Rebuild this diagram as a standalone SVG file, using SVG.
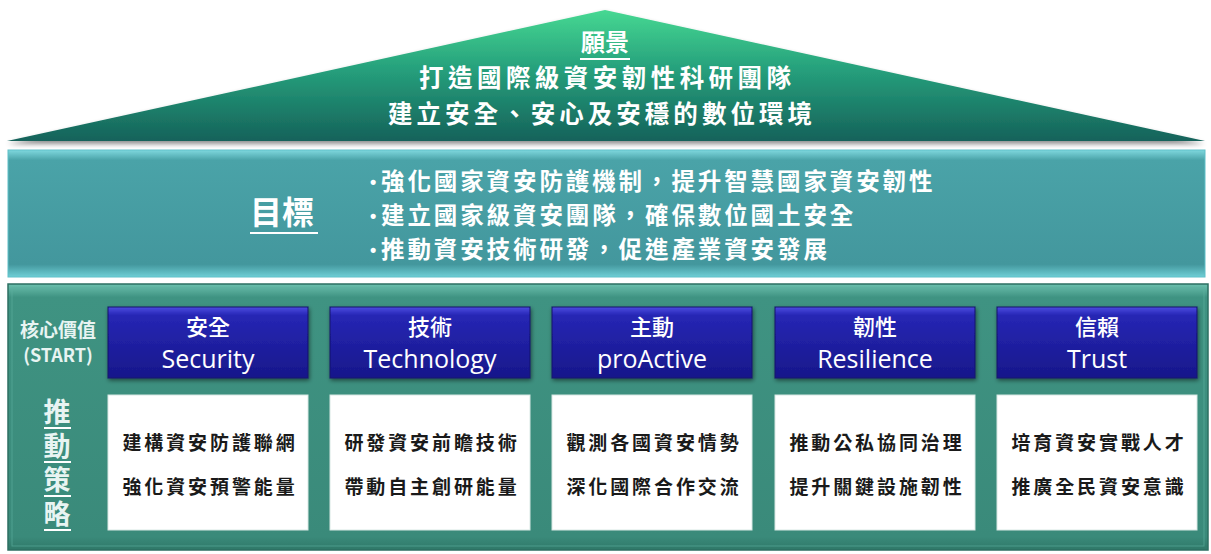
<svg xmlns="http://www.w3.org/2000/svg" width="1211" height="554" viewBox="0 0 1211 554">
<defs>
<linearGradient id="gTri" x1="0" y1="0" x2="0" y2="1">
<stop offset="0" stop-color="#46d892"/>
<stop offset="0.45" stop-color="#26a07c"/>
<stop offset="1" stop-color="#15625a"/>
</linearGradient>
<linearGradient id="gBand" x1="0" y1="0" x2="0" y2="1">
<stop offset="0" stop-color="#7fd8de"/>
<stop offset="0.08" stop-color="#4aa3a8"/>
<stop offset="0.9" stop-color="#43979d"/>
<stop offset="1" stop-color="#6fcfd6"/>
</linearGradient>
<linearGradient id="gPanel" x1="0" y1="0" x2="0" y2="1">
<stop offset="0" stop-color="#6cc0ae"/>
<stop offset="0.05" stop-color="#3f9382"/>
<stop offset="0.95" stop-color="#3a8a7a"/>
<stop offset="1" stop-color="#2f7868"/>
</linearGradient>
<linearGradient id="gBlue" x1="0" y1="0" x2="0" y2="1">
<stop offset="0" stop-color="#4b4be0"/>
<stop offset="0.12" stop-color="#2626b4"/>
<stop offset="1" stop-color="#17178a"/>
</linearGradient>
<filter id="shadow" x="-5%" y="-10%" width="110%" height="130%">
<feGaussianBlur in="SourceAlpha" stdDeviation="2"/>
<feOffset dx="1" dy="2" result="o"/>
<feComponentTransfer><feFuncA type="linear" slope="0.5"/></feComponentTransfer>
<feMerge><feMergeNode/><feMergeNode in="SourceGraphic"/></feMerge>
</filter>
<filter id="triShadow" x="-5%" y="-10%" width="110%" height="130%">
<feGaussianBlur in="SourceAlpha" stdDeviation="2.5"/>
<feOffset dx="0" dy="3"/>
<feComponentTransfer><feFuncA type="linear" slope="0.45"/></feComponentTransfer>
<feMerge><feMergeNode/><feMergeNode in="SourceGraphic"/></feMerge>
</filter>
</defs>
<style>
.cjkw{font-family:"Noto Sans CJK TC","Noto Sans CJK SC",sans-serif;fill:#ffffff;font-weight:700}
.vis{font-size:24.5px;text-anchor:middle}
.goal{font-size:23.5px;letter-spacing:2.9px}
.dot{font-family:"Liberation Sans",sans-serif;fill:#ffffff;font-size:18px;font-weight:700}
.hdr{font-family:"Noto Sans CJK TC",sans-serif;fill:#ffffff;font-size:22px;text-anchor:middle;font-weight:500}
.eng{font-family:"Open Sans","Noto Sans",sans-serif;fill:#ffffff;font-size:25px;text-anchor:middle}
.blue{fill:url(#gBlue);stroke:#12126a;stroke-width:1}
.white{fill:#ffffff;stroke:#d8e8e4;stroke-width:1}
.str{font-family:"Noto Sans CJK TC",sans-serif;fill:#1a1a1a;font-size:19px;font-weight:700;text-anchor:middle;letter-spacing:2.9px}
.side{font-family:"Noto Sans CJK TC",sans-serif;fill:#e8f4f2;font-weight:700;text-anchor:middle}
.ul{stroke:#ffffff;stroke-width:2}
</style>

<g id="vision">
<polygon points="605,10 1205,141 7,141" fill="url(#gTri)" filter="url(#triShadow)"/>
<text class="cjkw" x="605" y="51" font-size="24" text-anchor="middle" font-weight="500">願景</text>
<line class="ul" x1="580" y1="59" x2="630" y2="59"/>
<text class="cjkw vis" x="605" y="87" textLength="372" lengthAdjust="spacing">打造國際級資安韌性科研團隊</text>
<text class="cjkw vis" x="600" y="122.5" textLength="424" lengthAdjust="spacing">建立安全、安心及安穩的數位環境</text>
</g>

<g id="goals">
<rect x="8" y="150" width="1197" height="127" fill="url(#gBand)" stroke="#5fc0c8" stroke-width="1"/>
<text class="cjkw" x="250" y="224" font-size="32" font-weight="500">目標</text>
<line class="ul" x1="250" y1="233" x2="318" y2="233" stroke="#e0fbff"/>
<text class="dot" x="370" y="188">•</text>
<text class="cjkw goal" x="381" y="190">強化國家資安防護機制，提升智慧國家資安韌性</text>
<text class="dot" x="370" y="222">•</text>
<text class="cjkw goal" x="381" y="224">建立國家級資安團隊，確保數位國土安全</text>
<text class="dot" x="370" y="256">•</text>
<text class="cjkw goal" x="381" y="258">推動資安技術研發，促進產業資安發展</text>
</g>

<g id="panel">
<rect x="8" y="284" width="1200" height="266" fill="url(#gPanel)" stroke="#2c6f62" stroke-width="1.5"/>
<rect x="12" y="288" width="1192" height="258" fill="none" stroke="#5fb3a2" stroke-width="1" opacity="0.6"/>
</g>

<g id="side-labels">
<text class="side" x="58" y="337" font-size="19">核心價值</text>
<text class="side" x="58" y="362" font-size="18" font-family="Open Sans, sans-serif" font-weight="600">(START)</text>
<text class="side" x="57" y="398" font-size="27" font-weight="500" writing-mode="vertical-rl" style="text-anchor:start;letter-spacing:7px">推動策略</text>
<line class="ul" x1="44" y1="428" x2="71" y2="428" stroke-width="1.5"/>
<line class="ul" x1="44" y1="462" x2="71" y2="462" stroke-width="1.5"/>
<line class="ul" x1="44" y1="496" x2="71" y2="496" stroke-width="1.5"/>
<line class="ul" x1="44" y1="530" x2="71" y2="530" stroke-width="1.5"/>
</g>

<g id="security">
<rect class="blue" x="108" y="307" width="200" height="71" filter="url(#shadow)"/>
<text class="hdr" x="208" y="334.5">安全</text>
<text class="eng" x="208" y="368">Security</text>
<rect class="white" x="108" y="395" width="200" height="135"/>
<text class="str" x="210" y="450">建構資安防護聯網</text>
<text class="str" x="210" y="494">強化資安預警能量</text>
</g>

<g id="technology">
<rect class="blue" x="330" y="307" width="200" height="71" filter="url(#shadow)"/>
<text class="hdr" x="430" y="334.5">技術</text>
<text class="eng" x="430" y="368">Technology</text>
<rect class="white" x="330" y="395" width="200" height="135"/>
<text class="str" x="432" y="450">研發資安前瞻技術</text>
<text class="str" x="432" y="494">帶動自主創研能量</text>
</g>

<g id="proactive">
<rect class="blue" x="552" y="307" width="200" height="71" filter="url(#shadow)"/>
<text class="hdr" x="652" y="334.5">主動</text>
<text class="eng" x="652" y="368">proActive</text>
<rect class="white" x="552" y="395" width="200" height="135"/>
<text class="str" x="654" y="450">觀測各國資安情勢</text>
<text class="str" x="654" y="494">深化國際合作交流</text>
</g>

<g id="resilience">
<rect class="blue" x="775" y="307" width="200" height="71" filter="url(#shadow)"/>
<text class="hdr" x="875" y="334.5">韌性</text>
<text class="eng" x="875" y="368">Resilience</text>
<rect class="white" x="775" y="395" width="200" height="135"/>
<text class="str" x="877" y="450">推動公私協同治理</text>
<text class="str" x="877" y="494">提升關鍵設施韌性</text>
</g>

<g id="trust">
<rect class="blue" x="997" y="307" width="200" height="71" filter="url(#shadow)"/>
<text class="hdr" x="1097" y="334.5">信賴</text>
<text class="eng" x="1097" y="368">Trust</text>
<rect class="white" x="997" y="395" width="200" height="135"/>
<text class="str" x="1099" y="450">培育資安實戰人才</text>
<text class="str" x="1099" y="494">推廣全民資安意識</text>
</g>

<g id="connectors"></g>
</svg>
